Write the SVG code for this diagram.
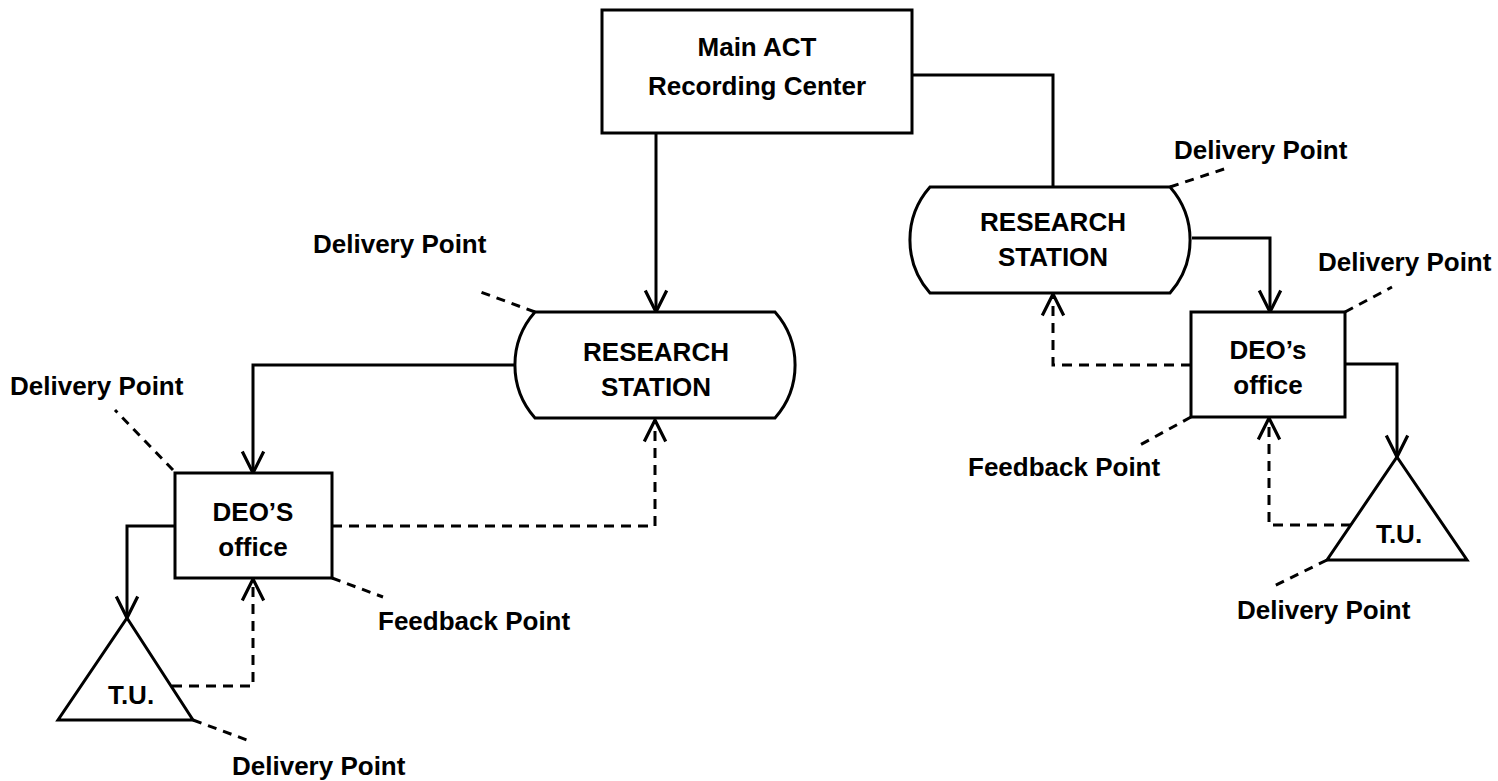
<svg xmlns="http://www.w3.org/2000/svg" width="1498" height="781" viewBox="0 0 1498 781">
<style>
.bg{fill:#ffffff}
.shape{fill:#ffffff;stroke:#000;stroke-width:3;stroke-linejoin:miter}
.solid{fill:none;stroke:#000;stroke-width:3}
.dash{fill:none;stroke:#000;stroke-width:3;stroke-dasharray:10 7}
.lead{fill:none;stroke:#000;stroke-width:3;stroke-dasharray:9 7}
text{font-family:"Liberation Sans",Arial,sans-serif;font-size:26px;font-weight:bold;fill:#000}
.c{text-anchor:middle}
</style>
<defs>
<marker id="arr" markerUnits="userSpaceOnUse" markerWidth="30" markerHeight="30" viewBox="-24 -12 28 24" refX="0" refY="0" orient="auto">
<path d="M-20,-10 L0,0 L-20,10" fill="none" stroke="#000" stroke-width="3"/>
</marker>
</defs>
<rect class="bg" x="0" y="0" width="1498" height="781"/>

<g id="connectors">
<path class="solid" d="M656,133 V312" marker-end="url(#arr)"/>
<path class="solid" d="M912,75 H1053 V187"/>
<path class="solid" d="M515,365 H253 V473" marker-end="url(#arr)"/>
<path class="solid" d="M175,526 H127 V618" marker-end="url(#arr)"/>
<path class="solid" d="M1192,238 H1270 V312" marker-end="url(#arr)"/>
<path class="solid" d="M1345,364 H1397 V457" marker-end="url(#arr)"/>
<path class="dash" d="M332,526 H655 V420" marker-end="url(#arr)"/>
<path class="dash" d="M172,686 H253 V579" marker-end="url(#arr)"/>
<path class="dash" d="M1191,365 H1053 V294" marker-end="url(#arr)"/>
<path class="dash" d="M1351,525 H1269 V418" marker-end="url(#arr)"/>
</g>

<g id="main-center">
<rect class="shape" x="602" y="10" width="310" height="123"/>
<text class="c" x="757" y="56">Main ACT</text>
<text class="c" x="757" y="95">Recording Center</text>
</g>

<g id="research-station-left">
<path class="shape" d="M535,312 H775 A80,80 0 0 1 775,418 H535 A80,80 0 0 1 535,312 Z"/>
<text class="c" x="656" y="361">RESEARCH</text>
<text class="c" x="656" y="396">STATION</text>
</g>

<g id="research-station-right">
<path class="shape" d="M930,187 H1170 A80,80 0 0 1 1170,293 H930 A80,80 0 0 1 930,187 Z"/>
<text class="c" x="1053" y="231">RESEARCH</text>
<text class="c" x="1053" y="266">STATION</text>
</g>

<g id="deo-left">
<rect class="shape" x="175" y="473" width="157" height="105"/>
<text class="c" x="253" y="521">DEO’S</text>
<text class="c" x="253" y="556">office</text>
</g>

<g id="deo-right">
<rect class="shape" x="1191" y="312" width="154" height="105"/>
<text class="c" x="1268" y="359">DEO’s</text>
<text class="c" x="1268" y="394">office</text>
</g>

<g id="tu-left">
<path class="shape" d="M127,618 L193,720 L58,720 Z"/>
<text class="c" x="131" y="704">T.U.</text>
</g>

<g id="tu-right">
<path class="shape" d="M1397,457 L1467,560 L1327,560 Z"/>
<text class="c" x="1399" y="543">T.U.</text>
</g>

<g id="labels">
<path class="lead" d="M535,312 L478,291"/>
<text x="313" y="253">Delivery Point</text>
<path class="lead" d="M173,470 L115,410"/>
<text x="10" y="395">Delivery Point</text>
<path class="lead" d="M332,578 L383,597"/>
<text x="378" y="630">Feedback Point</text>
<path class="lead" d="M193,720 L247,740"/>
<text x="232" y="775">Delivery Point</text>
<path class="lead" d="M1170,187 L1230,167"/>
<text x="1174" y="159">Delivery Point</text>
<path class="lead" d="M1345,312 L1392,287"/>
<text x="1318" y="271">Delivery Point</text>
<path class="lead" d="M1191,417 L1140,445"/>
<text x="968" y="476">Feedback Point</text>
<path class="lead" d="M1327,560 L1270,588"/>
<text x="1237" y="619">Delivery Point</text>
</g>
</svg>
